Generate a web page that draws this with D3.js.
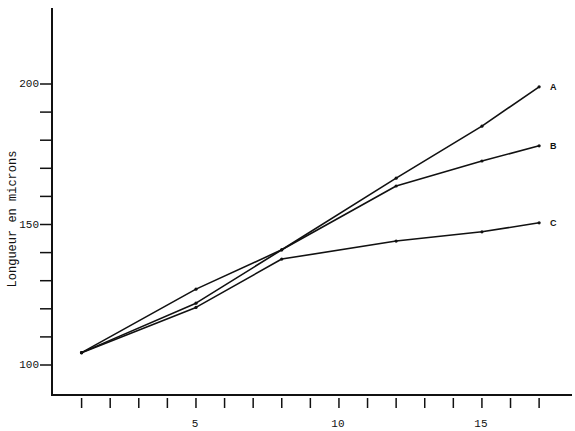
<!DOCTYPE html>
<html>
<head>
<meta charset="utf-8">
<script src="https://cdn.jsdelivr.net/npm/d3@7"></script>
<style>
  body { margin: 0; background: #fff; }
  svg { display: block; }
  text { font-family: "Liberation Mono", "DejaVu Sans Mono", monospace; fill: #111; }
</style>
</head>
<body>
<svg id="chart" width="575" height="431"></svg>
<script>
// -----------------------------------------------------------------------------

var days = [1, 5, 8, 12, 15, 17];
var seriesA = [104.4, 122, 141, 166.5, 185, 199];
var seriesB = [104.4, 127, 141, 163.7, 172.6, 178];
var seriesC = [104.4, 120.5, 137.7, 144.1, 147.4, 150.6];
var seriesNames = ['A', 'B', 'C'];

var xTicks = d3.range(1, 18);
var xTickLabels = [5, 10, 15];
var yTicks = d3.range(100, 201, 10);
var yTickLabels = [100, 150, 200];

var yTitle = 'Longueur en microns';

// -----------------------------------------------------------------------------

var svg = d3.select('#chart');

var x = d3.scaleLinear().domain([0, 18.15]).range([53, 572]);
var y = d3.scaleLinear().domain([100, 200]).range([365, 84]);

var axisX = 52;
var axisY = 395;

// - - - - - - - - - - - - - - - - - - - - - - - - - - - - - - - - - - - - - -
// axes

svg.append('line')
  .attr('x1', axisX).attr('x2', axisX)
  .attr('y1', 8).attr('y2', axisY + 1)
  .attr('stroke', '#111')
  .attr('stroke-width', 2);

svg.append('line')
  .attr('x1', axisX - 1).attr('x2', 572)
  .attr('y1', axisY).attr('y2', axisY)
  .attr('stroke', '#111')
  .attr('stroke-width', 2);

svg.append('g')
  .selectAll('line')
  .data(xTicks)
  .join('line')
  .attr('x1', function (d) { return x(d); })
  .attr('x2', function (d) { return x(d); })
  .attr('y1', axisY + 3)
  .attr('y2', axisY + 13)
  .attr('stroke', '#111')
  .attr('stroke-width', 1.5);

svg.append('g')
  .selectAll('text')
  .data(xTickLabels)
  .join('text')
  .attr('x', function (d) { return x(d) - 1; })
  .attr('y', 427)
  .attr('text-anchor', 'middle')
  .style('font-size', '11px')
  .text(function (d) { return d; });

svg.append('g')
  .selectAll('line')
  .data(yTicks)
  .join('line')
  .attr('x1', axisX - 12)
  .attr('x2', axisX)
  .attr('y1', function (d) { return y(d); })
  .attr('y2', function (d) { return y(d); })
  .attr('stroke', '#111')
  .attr('stroke-width', 1.5);

svg.append('g')
  .selectAll('text')
  .data(yTickLabels)
  .join('text')
  .attr('x', axisX - 13)
  .attr('y', function (d) { return y(d) + 3; })
  .attr('text-anchor', 'end')
  .style('font-size', '11px')
  .text(function (d) { return d; });

svg.append('text')
  .attr('transform', 'translate(16,219) rotate(-90)')
  .attr('text-anchor', 'middle')
  .style('font-size', '12px')
  .text(yTitle);

// - - - - - - - - - - - - - - - - - - - - - - - - - - - - - - - - - - - - - -
// series

var allSeries = [seriesA, seriesB, seriesC].map(function (values, i) {
  return {
    name: seriesNames[i],
    points: values.map(function (v, j) { return { day: days[j], value: v }; })
  };
});

var line = d3.line()
  .x(function (d) { return x(d.day); })
  .y(function (d) { return y(d.value); });

var gSeries = svg.append('g')
  .selectAll('g')
  .data(allSeries)
  .join('g');

gSeries.append('path')
  .attr('d', function (d) { return line(d.points); })
  .attr('fill', 'none')
  .attr('stroke', '#111')
  .attr('stroke-width', 1.6)
  .attr('stroke-linejoin', 'round');

gSeries.selectAll('circle')
  .data(function (d) { return d.points; })
  .join('circle')
  .attr('cx', function (d) { return x(d.day); })
  .attr('cy', function (d) { return y(d.value); })
  .attr('r', 1.6)
  .attr('fill', '#111');

gSeries.append('text')
  .attr('x', function (d) { return x(days[days.length - 1]) + 11; })
  .attr('y', function (d) { return y(d.points[d.points.length - 1].value) + 3; })
  .style('font-size', '9px')
  .style('font-weight', 'bold')
  .style('font-family', 'Liberation Sans, Arial, sans-serif')
  .text(function (d) { return d.name; });

// -----------------------------------------------------------------------------
</script>
</body>
</html>
